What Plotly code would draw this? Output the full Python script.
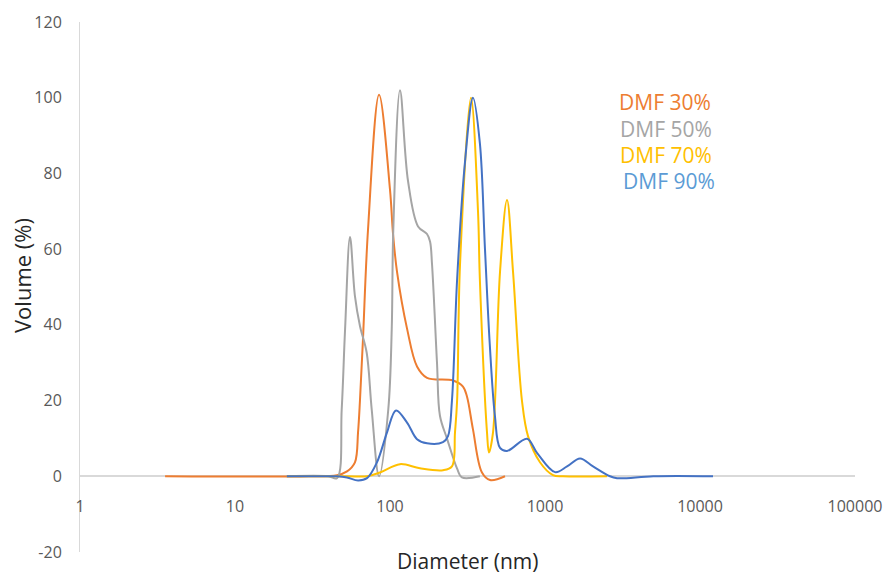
import plotly.graph_objects as go

# ---------------- data ----------------
series_names = ["DMF 30%", "DMF 50%", "DMF 70%", "DMF 90%"]

d30 = [3.54, 30, 45.5, 52.8, 59.4, 62.2, 64.0, 66.9, 72.1, 85, 100, 104.6, 111, 128.8,
       149.4, 173.3, 254.9, 295.7, 314, 343, 392, 442, 552]
v30 = [0, 0, 0.3, 1.3, 3.7, 11.6, 20, 36, 65, 100.8, 75.7, 64, 54, 39,
       29, 26, 25.3, 23.7, 21, 12.4, 1, -1, 0]

d50 = [21.6, 40, 45.5, 48.8, 51.3, 55.2, 59.4, 64.0, 70.7, 76.2, 85, 97.5, 102.6, 105, 116,
       130.7, 151.7, 173.3, 181.3, 186.7, 201, 210, 233, 271, 291, 380]
v50 = [0, 0, -0.5, 17.7, 38.8, 63.2, 47.6, 39.7, 32.7, 17.7, 0, 17.7, 38.8, 65, 102,
       78, 66, 64, 62, 56, 30, 16, 10, 2, -0.3, 0]

d70 = [21.6, 52.8, 71.1, 86.2, 116, 156, 219.8, 251, 262.6, 271, 283, 333, 369.6, 380,
       422.5, 435, 462, 512.6, 568.7, 622, 710, 777, 928, 1126, 1306, 2511]
v70 = [0, 0, 0, 1, 3.2, 2.1, 1.6, 2.6, 11.6, 20, 56, 100, 70, 52,
       11.6, 6.3, 11.6, 54, 73, 54, 20, 10.6, 3.7, 0.3, 0, 0]

d90 = [21.6, 40, 45.5, 52.8, 62.2, 71.1, 82.4, 95.7, 109.3, 128.8, 149.4, 173.3, 219.8,
       236.7, 251, 271, 304.6, 343, 380, 410, 440, 475, 512.6, 568.7, 765, 888, 1161, 1388,
       1683, 2041, 2625, 2916, 5000, 12130]
v90 = [0, 0, 0, -0.3, -1.1, -0.5, 3.7, 11.6, 17.4, 14.2, 9.8, 8.7, 9,
       10.6, 20, 52, 83, 100, 88, 60, 35, 16, 7.5, 6.7, 9.9, 6.2, 1.1, 2.6,
       4.7, 2.6, 0, -0.5, 0, 0]

x_tickvals = [1, 10, 100, 1000, 10000, 100000]
x_ticktext = ["1", "10", "100", "1000", "10000", "100000"]
y_tickvals = [-20, 0, 20, 40, 60, 80, 100, 120]
y_ticktext = ["-20", "0", "20", "40", "60", "80", "100", "120"]

line_colors = ["#ED7D31", "#A5A5A5", "#FFC000", "#4472C4"]
label_colors = ["#ED7D31", "#A5A5A5", "#FFC000", "#5B9BD5"]

# ---------------- figure ----------------
fig = go.Figure()
for name, xs, ys, c in zip(series_names, [d30, d50, d70, d90], [v30, v50, v70, v90], line_colors):
    fig.add_trace(go.Scatter(x=xs, y=ys, mode="lines", name=name,
                             line=dict(color=c, width=2, shape="spline", smoothing=1.0)))

FONT = "Open Sans, Liberation Sans, sans-serif"

fig.update_layout(
    width=885, height=574,
    margin=dict(l=80, r=30, t=22, b=22, autoexpand=False),
    paper_bgcolor="white", plot_bgcolor="white",
    showlegend=False,
    font=dict(family=FONT, color="#595959", size=16),
)

fig.update_xaxes(
    type="log", range=[0, 5],
    anchor="free", position=20 / 140,
    automargin=False,
    showline=True, linecolor="#D9D9D9", linewidth=1.5,
    showgrid=False, zeroline=False, layer="below traces",
    tickvals=x_tickvals, ticktext=x_ticktext,
    ticks="outside", ticklen=16, tickcolor="rgba(0,0,0,0)",
    tickfont=dict(size=16, color="#595959"),
)
fig.update_yaxes(
    range=[-20, 120],
    automargin=False,
    showline=True, linecolor="#D9D9D9", linewidth=1,
    showgrid=False, zeroline=False, layer="below traces",
    tickvals=y_tickvals, ticktext=y_ticktext,
    ticks="outside", ticklen=14, tickcolor="rgba(0,0,0,0)",
    tickfont=dict(size=16, color="#595959"),
)

# axis titles
fig.add_annotation(text="Diameter (nm)", xref="paper", yref="paper",
                   x=(467 - 80) / 775, y=(552 - 561) / 530, showarrow=False,
                   xanchor="center", yanchor="middle", borderpad=0,
                   font=dict(size=21, color="#262626", family=FONT))
fig.add_annotation(text="Volume (%)", xref="paper", yref="paper",
                   x=(22 - 80) / 775, y=(552 - 275) / 530, showarrow=False,
                   textangle=-90, xanchor="center", yanchor="middle",
                   font=dict(size=22, color="#262626", family=FONT))

# series labels
label_pos = [(618, 102), (619, 129), (619, 155), (622, 181)]
for name, c, (px, py) in zip(series_names, label_colors, label_pos):
    fig.add_annotation(text=name, xref="paper", yref="paper",
                       x=(px - 80) / 775, y=(552 - py) / 530, showarrow=False,
                       xanchor="left", yanchor="middle", borderpad=0,
                       font=dict(size=21, color=c, family=FONT))

fig.write_html("out.html")
